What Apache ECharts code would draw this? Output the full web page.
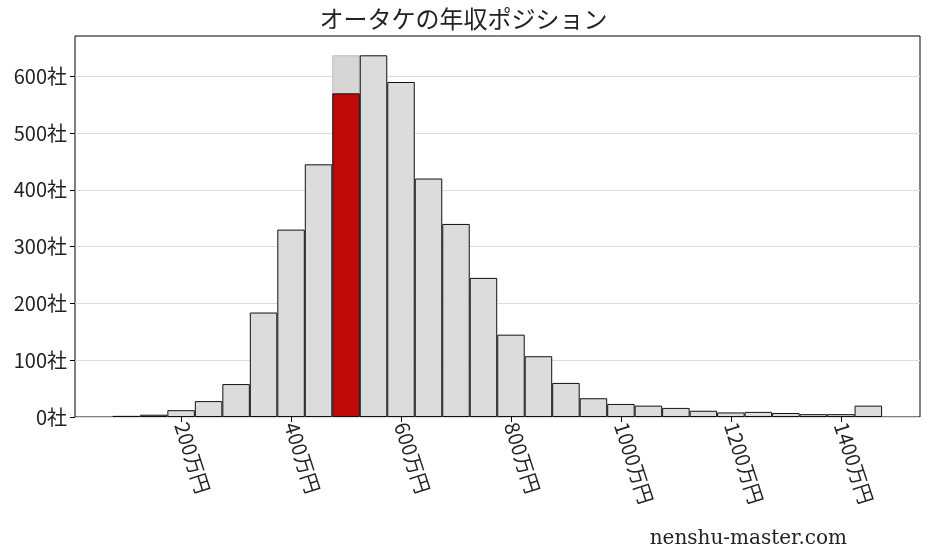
<!DOCTYPE html>
<html><head><meta charset="utf-8">
<script src="https://cdn.jsdelivr.net/npm/echarts@6/dist/echarts.min.js"></script>
<style>html,body{margin:0;padding:0;background:#fff}#c{width:927px;height:557px}</style>
</head><body><div id="c"></div>
<script>
const binCenters = [100,150,200,250,300,350,400,450,500,550,600,650,700,750,800,850,900,950,1000,1050,1100,1150,1200,1250,1300,1350,1400,1450];
const counts = [2,4,12,28,58,184,330,445,637,637,590,420,340,245,145,107,60,33,23,20,16,11,8,9,7,5,5,20];
const highlightBin = 500;
const highlightCount = 570;
const xTicks = [200,400,600,800,1000,1200,1400];
const yTicks = [0,100,200,300,400,500,600];

const chart = echarts.init(document.getElementById('c'));
const f = '"Noto Sans CJK JP", "DejaVu Serif", serif';
chart.setOption({
  animation:false,
  title:{text:'オータケの年収ポジション',left:'center',top:2,textStyle:{fontFamily:f,fontSize:24,fontWeight:'normal',color:'#222'}},
  graphic:[{type:'text',right:80,bottom:8,style:{text:'nenshu-master.com',font:'20px "DejaVu Serif", serif',fill:'#222'}}],
  grid:{left:75,right:7,top:36,bottom:140,show:true,borderColor:'#000',borderWidth:1,containLabel:false},
  xAxis:{type:'value',min:7,max:1544,
    axisLine:{show:false},splitLine:{show:false},
    axisTick:{show:true,customValues:xTicks,length:5,lineStyle:{color:'#000'}},
    axisLabel:{customValues:xTicks,rotate:-72,margin:6,verticalAlign:'middle',fontFamily:f,fontSize:20,color:'#222',formatter:v=>v+'万円'}},
  yAxis:{type:'value',min:0,max:671,
    axisLine:{show:false},
    axisTick:{show:true,customValues:yTicks,length:5,lineStyle:{color:'#000'}},
    splitLine:{show:true,lineStyle:{color:'#ddd'}},
    axisLabel:{customValues:yTicks,fontFamily:f,fontSize:20,color:'#222',formatter:v=>v+'社'}},
  series:[
    {type:'bar',barWidth:27.5,barGap:'-100%',
     data:binCenters.map((x,i)=>({value:[x,counts[i]],itemStyle:x===highlightBin?{color:'#d6d6d6',borderColor:'#bbb',borderWidth:1}:{color:'#dcdcdc',borderColor:'#111',borderWidth:1}}))},
    {type:'bar',barWidth:27.5,barGap:'-100%',
     data:[{value:[highlightBin,highlightCount]}],
     itemStyle:{color:'#c00a0a',borderColor:'#111',borderWidth:1}}
  ]
});
</script></body></html>
